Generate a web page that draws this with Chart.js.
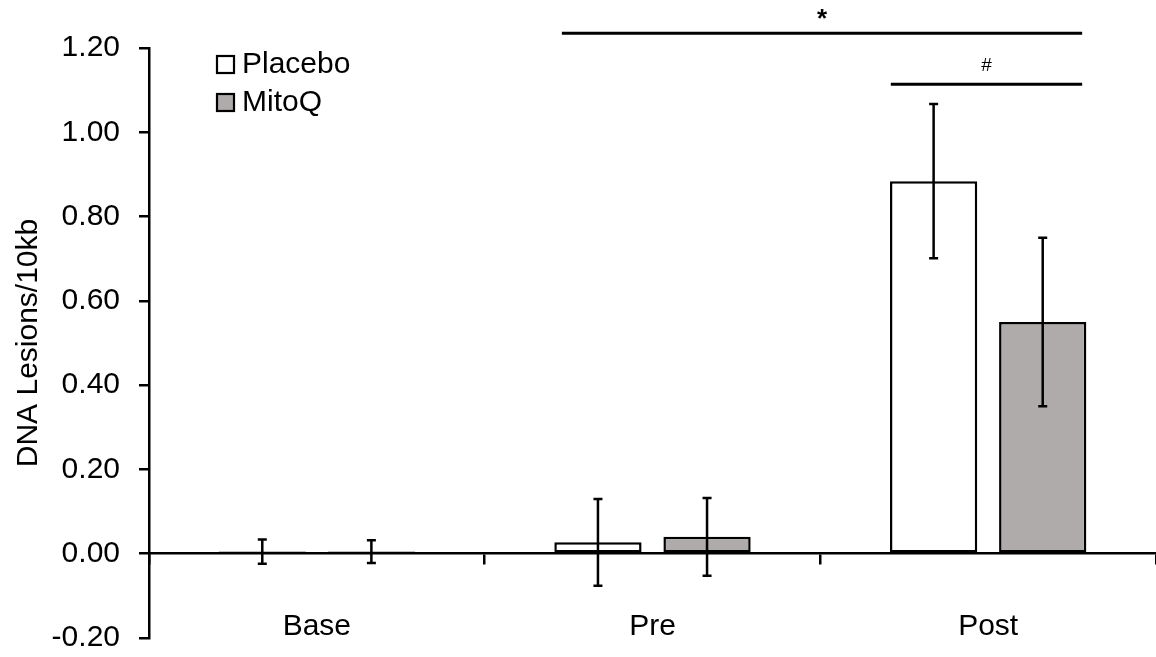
<!DOCTYPE html>
<html>
<head>
<meta charset="utf-8">
<script src="https://cdn.jsdelivr.net/npm/chart.js@4.4.1/dist/chart.umd.min.js"></script>
<style>
  html, body { margin: 0; padding: 0; background: #ffffff; }
  #wrap { width: 1156px; height: 657px; position: relative; }
</style>
</head>
<body>
<div id="wrap"><canvas id="c"></canvas></div>
<script>
// ---- data ----
const categories = ['Base', 'Pre', 'Post'];
const seriesNames = ['Placebo', 'MitoQ'];
const placeboMeans = [0.005, 0.027, 0.884];
const placeboErr   = [0.029, 0.103, 0.183];
const mitoqMeans   = [0.005, 0.040, 0.550];
const mitoqErr     = [0.027, 0.092, 0.200];
const yTicks = [-0.20, 0.00, 0.20, 0.40, 0.60, 0.80, 1.00, 1.20];
// significance brackets
const sigFrom   = [0.73, 1.71];
const sigTo     = [2.28, 2.28];
const sigY      = [1.235, 1.114];
const sigLabels = ['*', '#'];
const sigLabelY = [1.266, 1.157];

const FONT = '"Liberation Sans", Arial, Helvetica, sans-serif';
const placeboColor = '#ffffff';
const mitoqColor = '#aeabaa';

const errorBarPlugin = {
  id: 'errorBars',
  afterDatasetsDraw(chart) {
    const ctx = chart.ctx;
    const y = chart.scales.y;
    const xs = chart.scales.x;
    const errs = [placeboErr, mitoqErr];
    const means = [placeboMeans, mitoqMeans];
    ctx.save();
    ctx.strokeStyle = '#000';
    ctx.lineWidth = 2.5;
    for (let d = 0; d < 2; d++) {
      const meta = chart.getDatasetMeta(d);
      meta.data.forEach((el, i) => {
        const x = el.x;
        const top = y.getPixelForValue(means[d][i] + errs[d][i]);
        const bot = y.getPixelForValue(means[d][i] - errs[d][i]);
        ctx.beginPath();
        ctx.moveTo(x, top); ctx.lineTo(x, bot);
        ctx.moveTo(x - 4.5, top); ctx.lineTo(x + 4.5, top);
        ctx.moveTo(x - 4.5, bot); ctx.lineTo(x + 4.5, bot);
        ctx.stroke();
      });
    }
    // significance lines
    ctx.lineWidth = 3;
    ctx.fillStyle = '#000';
    ctx.textAlign = 'center';
    ctx.textBaseline = 'middle';
    for (let k = 0; k < sigFrom.length; k++) {
      const py = y.getPixelForValue(sigY[k]);
      ctx.beginPath();
      ctx.moveTo(xs.getPixelForValue(sigFrom[k]), py);
      ctx.lineTo(xs.getPixelForValue(sigTo[k]), py);
      ctx.stroke();
      const lx = xs.getPixelForValue((sigFrom[k] + sigTo[k]) / 2);
      ctx.font = (sigLabels[k] === '*' ? 'bold 26px ' : '19px ') + FONT;
      ctx.fillText(sigLabels[k], lx, y.getPixelForValue(sigLabelY[k]));
    }
    ctx.restore();
  }
};

const legendPlugin = {
  id: 'boxLegend',
  afterDraw(chart) {
    const ctx = chart.ctx;
    const a = chart.chartArea;
    const colors = [placeboColor, mitoqColor];
    ctx.save();
    ctx.font = '30px ' + FONT;
    ctx.textBaseline = 'middle';
    ctx.textAlign = 'left';
    for (let i = 0; i < seriesNames.length; i++) {
      const bx = a.left + 68, by = a.top + 8 + i * 38;
      ctx.fillStyle = colors[i];
      ctx.fillRect(bx, by, 17, 17);
      ctx.strokeStyle = '#000';
      ctx.lineWidth = 2.2;
      ctx.strokeRect(bx, by, 17, 17);
      ctx.fillStyle = '#000';
      ctx.fillText(seriesNames[i], bx + 25, by + 9);
    }
    ctx.restore();
  }
};

new Chart(document.getElementById('c'), {
  type: 'bar',
  data: {
    labels: categories,
    datasets: [
      { label: seriesNames[0], data: placeboMeans, backgroundColor: placeboColor,
        borderColor: '#000', borderWidth: 2.5, borderSkipped: false },
      { label: seriesNames[1], data: mitoqMeans, backgroundColor: mitoqColor,
        borderColor: '#000', borderWidth: 2.5, borderSkipped: false }
    ]
  },
  options: {
    responsive: true,
    maintainAspectRatio: false,
    animation: false,
    categoryPercentage: 0.65,
    barPercentage: 0.8,
    layout: { padding: { top: 48, right: 0, bottom: 19, left: 0 } },
    plugins: { legend: { display: false }, tooltip: { enabled: false } },
    scales: {
      x: {
        position: { y: 0 },
        grid: { display: true, drawOnChartArea: false, offset: true,
                tickLength: 10, tickColor: '#000', lineWidth: 2.5 },
        border: { display: true, color: '#000', width: 2.5 },
        ticks: { font: { family: FONT, size: 30 }, color: '#000', padding: 45 }
      },
      y: {
        min: -0.2, max: 1.2,
        afterBuildTicks(scale) { scale.ticks = yTicks.map(v => ({ value: v })); },
        afterFit(scale) { scale.width = 149; scale.paddingBottom = 0; scale.paddingTop = 0; },
        ticks: {
          font: { family: FONT, size: 30 }, color: '#000', padding: 19,
          callback: v => Number(v).toFixed(2)
        },
        grid: { display: true, drawOnChartArea: false,
                tickColor: '#000', tickLength: 10, lineWidth: 2.5 },
        border: { display: true, color: '#000', width: 2.5 },
        title: { display: true, text: 'DNA Lesions/10kb', color: '#000',
                 font: { family: FONT, size: 30 }, padding: { top: 11, bottom: 0 } }
      }
    }
  },
  plugins: [errorBarPlugin, legendPlugin]
});
</script>
</body>
</html>
